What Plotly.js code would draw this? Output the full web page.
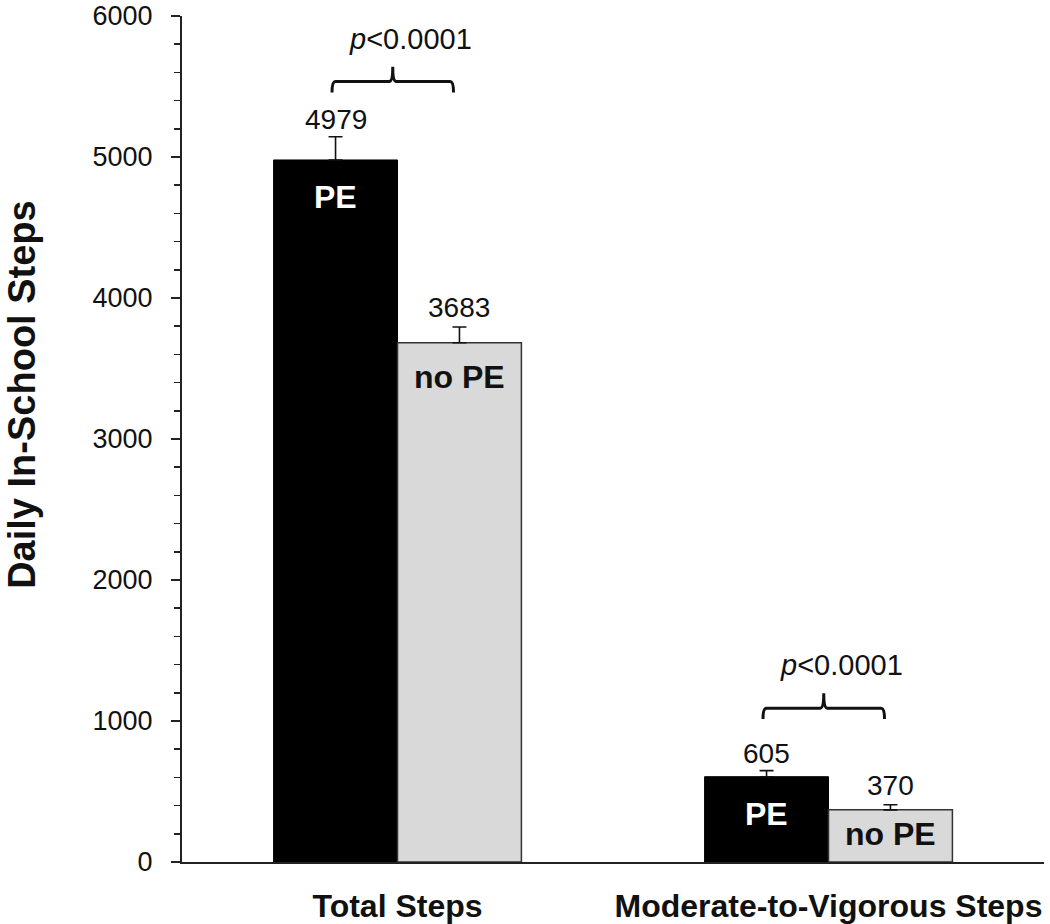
<!DOCTYPE html>
<html>
<head>
<meta charset="utf-8">
<script src="https://cdn.plot.ly/plotly-3.0.1.min.js"></script>
<style>html,body{margin:0;padding:0;background:#fff;}#chart{width:1050px;height:924px;}</style>
</head>
<body>
<div id="chart"></div>
<script>
// ---- data ----
var categories = ["Total Steps", "Moderate-to-Vigorous Steps"];
var seriesNames = ["PE", "no PE"];
var peValues = [4979, 605];
var noPeValues = [3683, 370];
var peErrors = [165, 43];
var noPeErrors = [111, 36];
var pLabels = ["<i>p</i>&lt;0.0001", "<i>p</i>&lt;0.0001"];
var yTickVals = [0, 1000, 2000, 3000, 4000, 5000, 6000];

// ---- layout constants ----
var FONT = "Liberation Sans, Arial, Helvetica, sans-serif";
var catIdx = categories.map(function (c, i) { return i; });
var bargap = 0.425;
var barW = (1 - bargap) / 2;
var offPE = -barW / 2, offNo = barW / 2;

var tracePE = {
  type: "bar", name: seriesNames[0], x: catIdx, y: peValues,
  marker: { color: "#000000", line: { color: "#000000", width: 1 } },
  error_y: { type: "data", symmetric: false, array: peErrors, arrayminus: [0, 0],
             color: "#111111", thickness: 1.6, width: 7 },
  hoverinfo: "skip"
};
var traceNo = {
  type: "bar", name: seriesNames[1], x: catIdx, y: noPeValues,
  marker: { color: "#d9d9d9", line: { color: "#333333", width: 1.5 } },
  error_y: { type: "data", symmetric: false, array: noPeErrors, arrayminus: [0, 0],
             color: "#111111", thickness: 1.6, width: 7 },
  hoverinfo: "skip"
};

var annotations = [];
catIdx.forEach(function (i) {
  annotations.push({ x: i + offPE, y: peValues[i] + peErrors[i], xref: "x", yref: "y",
    text: String(peValues[i]), showarrow: false, yanchor: "bottom", yshift: 0,
    font: { family: FONT, size: 28, color: "#111" } });
  annotations.push({ x: i + offNo, y: noPeValues[i] + noPeErrors[i], xref: "x", yref: "y",
    text: String(noPeValues[i]), showarrow: false, yanchor: "bottom", yshift: 2,
    font: { family: FONT, size: 28, color: "#111" } });
});
var inPEshift = [-37, -37];
var inNoShift = [-34, -24];
catIdx.forEach(function (i) {
  annotations.push({ x: i + offPE, y: peValues[i], xref: "x", yref: "y",
    text: "<b>" + seriesNames[0] + "</b>", showarrow: false, yanchor: "middle", yshift: inPEshift[i],
    font: { family: FONT, size: 32, color: "#ffffff" } });
  annotations.push({ x: i + offNo, y: noPeValues[i], xref: "x", yref: "y",
    text: "<b>" + seriesNames[1] + "</b>", showarrow: false, yanchor: "middle", yshift: inNoShift[i],
    font: { family: FONT, size: 32, color: "#111111" } });
});
var shapes = [];
var bracketBase = [5458, 1014];
var bracketH = 77;
var bracketTip = 105;
catIdx.forEach(function (i) {
  var x0 = i - 0.152, x1 = i + 0.130, xc = (x0 + x1) / 2;
  var yb = bracketBase[i], yh = yb + bracketH;
  var dx = 0.008;
  var path = "M" + x0 + "," + yb +
    " Q" + x0 + "," + yh + " " + (x0 + dx) + "," + yh +
    " L" + (xc - dx) + "," + yh +
    " Q" + xc + "," + yh + " " + xc + "," + (yh + bracketTip) +
    " Q" + xc + "," + yh + " " + (xc + dx) + "," + yh +
    " L" + (x1 - dx) + "," + yh +
    " Q" + x1 + "," + yh + " " + x1 + "," + yb;
  shapes.push({ type: "path", xref: "x", yref: "y", path: path,
    line: { color: "#111111", width: 3 } });
  annotations.push({ x: i + 0.031, y: yh + bracketTip + 70, xref: "x", yref: "y",
    text: pLabels[i], showarrow: false, yanchor: "bottom", yshift: 0,
    font: { family: FONT, size: 29, color: "#111" } });
});
annotations.push({ xref: "paper", yref: "paper", x: -0.186, y: 0.553,
  text: "<b>Daily In-School Steps</b>", textangle: -90, showarrow: false,
  xanchor: "center", yanchor: "middle",
  font: { family: FONT, size: 38, color: "#111" } });

var layout = {
  width: 1050, height: 924,
  margin: { l: 182, r: 6, t: 16, b: 62 },
  paper_bgcolor: "#ffffff", plot_bgcolor: "#ffffff",
  showlegend: false,
  barmode: "group", bargap: bargap, bargroupgap: 0,
  font: { family: FONT, color: "#111" },
  xaxis: {
    type: "linear", range: [-0.5, 1.5], tickvals: catIdx,
    ticktext: categories.map(function (c) { return "<b>" + c + "</b>"; }),
    ticks: "", showgrid: false, zeroline: false,
    showline: true, linecolor: "#222", linewidth: 2,
    tickfont: { family: FONT, size: 32, color: "#111" },
    ticklabelstandoff: 15, ticklabeloverflow: "allow"
  },
  yaxis: {
    range: [0, 6000], tickvals: yTickVals, ticks: "outside", ticklen: 9, tickwidth: 2,
    tickcolor: "#222", showgrid: false, zeroline: false,
    showline: true, linecolor: "#222", linewidth: 2,
    tickfont: { family: FONT, size: 27, color: "#111" },
    ticklabelstandoff: 13, ticklabeloverflow: "allow",
    minor: { dtick: 200, ticks: "outside", ticklen: 6, tickwidth: 1.5, tickcolor: "#222", showgrid: false }
  },
  annotations: annotations,
  shapes: shapes
};

Plotly.newPlot("chart", [tracePE, traceNo], layout, { staticPlot: true, displayModeBar: false });
</script>
</body>
</html>
